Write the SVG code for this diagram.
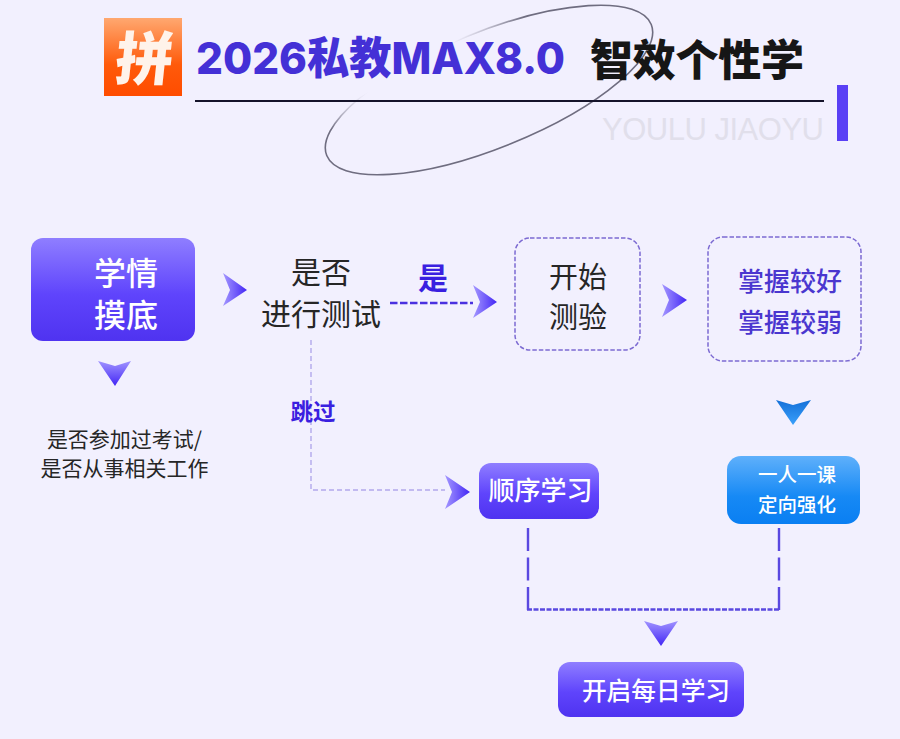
<svg xmlns="http://www.w3.org/2000/svg" width="900" height="739" viewBox="0 0 900 739">
<style>
text{font-family:"Noto Sans CJK SC","Liberation Sans",sans-serif;text-anchor:middle;dominant-baseline:central}
.w{fill:#fff;font-weight:500}
.k{fill:#262626}
.b{fill:#4a36cf;font-weight:500}
.v{fill:url(#gv)}
.dash{fill:none;stroke:#7c6ad2;stroke-width:1.5;stroke-dasharray:4.500 2}
.arr-r{fill:url(#ga)}
.arr-d{fill:url(#gd)}
</style>
<defs>
<linearGradient id="gv" x1="0" y1="0" x2="0" y2="1"><stop offset="0" stop-color="#8f7eff"/><stop offset=".55" stop-color="#5f44fc"/><stop offset="1" stop-color="#4f33f0"/></linearGradient>
<linearGradient id="gb" x1="0" y1="0" x2="0" y2="1"><stop offset="0" stop-color="#5fb0fb"/><stop offset=".6" stop-color="#1689f5"/><stop offset="1" stop-color="#0a7ff2"/></linearGradient>
<linearGradient id="ga" x1="0" y1="0" x2="1" y2="0"><stop offset="0" stop-color="#a598ff"/><stop offset="1" stop-color="#4326f5"/></linearGradient>
<linearGradient id="gd" x1="0" y1="0" x2="0" y2="1"><stop offset="0" stop-color="#a093ff"/><stop offset="1" stop-color="#4326f5"/></linearGradient>
<linearGradient id="gbd" x1="0" y1="0" x2="0" y2="1"><stop offset="0" stop-color="#1470d8"/><stop offset="1" stop-color="#3aa0fb"/></linearGradient>
<linearGradient id="gl" x1="0" y1="0" x2="0" y2="1"><stop offset="0" stop-color="#ffa870"/><stop offset=".6" stop-color="#ff5a0a"/><stop offset="1" stop-color="#ff4c00"/></linearGradient>
<linearGradient id="ge" gradientUnits="userSpaceOnUse" x1="409" y1="68" x2="416" y2="80" gradientTransform="rotate(22 489 90)"><stop offset="0" stop-color="#6f6d80" stop-opacity="0"/><stop offset="1" stop-color="#6f6d80"/></linearGradient>
</defs>
<rect width="900" height="739" fill="#f2f0fe"/>
<g id="header">
<ellipse cx="489" cy="90" rx="175" ry="58" transform="rotate(-22 489 90)" fill="none" stroke="url(#ge)" stroke-width="1.6"/>
<rect x="104" y="18" width="78" height="78" fill="url(#gl)"/>
<text x="143" y="55" font-size="58" font-weight="900" fill="#fff3ea" transform="translate(8 0) skewX(-6) translate(0 0)" style="font-family:'Noto Sans CJK SC',sans-serif">拼</text>
<text x="196" y="58" font-size="44" font-weight="800" fill="#4430d6" style="text-anchor:start;font-family:Inter,'Noto Sans CJK SC',sans-serif" textLength="369" lengthAdjust="spacingAndGlyphs">2026私教MAX8.0</text>
<text x="590" y="57" font-size="43" font-weight="900" fill="#161616" style="text-anchor:start" textLength="214">智效个性学</text>
<line x1="195" y1="101" x2="824" y2="101" stroke="#15132a" stroke-width="2"/>
<rect x="837" y="85" width="11" height="56" fill="#5a40f5"/>
<text x="713" y="129" font-size="31" fill="#e1dfeb" style="font-family:'Liberation Sans',sans-serif" textLength="222">YOULU JIAOYU</text>
</g>
<g id="connectors">
<line x1="390" y1="303" x2="473" y2="303" stroke="#4a30e0" stroke-width="2.400" stroke-dasharray="7.500 2.500"/>
<polyline points="311,340 311,490 445,490" fill="none" stroke="#b3a8ec" stroke-width="1.4" stroke-dasharray="5 3"/>
<path d="M528 528V610M779 528V610" fill="none" stroke="#5a48e0" stroke-width="2.4" stroke-dasharray="23 6.5"/>
<line x1="527" y1="609.500" x2="780" y2="609.500" stroke="#5a48e0" stroke-width="2.4" stroke-dasharray="5 1.500"/>
<polygon class="arr-r" points="223,273 247,290 223,306 230,290"/>
<polygon class="arr-r" points="473,285 497,302 473,318 480,302"/>
<polygon class="arr-r" points="662,284 687,300 662,317 669,300"/>
<polygon class="arr-r" points="445,475 470,492 445,509 452,492"/>
<polygon class="arr-d" points="98,361 115,366 131,361 115,386"/>
<polygon fill="url(#gbd)" points="776,400 793,405 811,400 793,425"/>
<polygon class="arr-d" points="644,621 661,626 678,621 661,646"/>
</g>
<g id="node-xueqing">
<rect class="v" x="31" y="238" width="164" height="103" rx="12"/>
<text class="w" x="126" y="271" font-size="32">学情</text>
<text class="w" x="126" y="313" font-size="32">摸底</text>
</g>
<g id="node-note">
<text class="k" x="124.500" y="438" font-size="21">是否参加过考试/</text>
<text class="k" x="124.500" y="467" font-size="21">是否从事相关工作</text>
</g>
<g id="node-test">
<text class="k" x="321" y="270" font-size="30">是否</text>
<text class="k" x="321" y="312" font-size="30">进行测试</text>
</g>
<g id="label-yes"><text x="433" y="276" font-size="30" font-weight="700" fill="#3a20e0">是</text></g>
<g id="label-skip"><text x="313" y="410" font-size="22.500" font-weight="700" fill="#3a20e0">跳过</text></g>
<g id="node-start">
<rect class="dash" x="515" y="238" width="125" height="112" rx="15"/>
<text class="k" x="578" y="275" font-size="29">开始</text>
<text class="k" x="578" y="315" font-size="29">测验</text>
</g>
<g id="node-level">
<rect class="dash" x="708" y="237" width="153" height="124" rx="15"/>
<text class="b" x="790" y="279" font-size="26">掌握较好</text>
<text class="b" x="790" y="320" font-size="26">掌握较弱</text>
</g>
<g id="node-order">
<rect class="v" x="479" y="463" width="120" height="56" rx="12"/>
<text class="w" x="540.500" y="488" font-size="26">顺序学习</text>
</g>
<g id="node-one">
<rect x="727" y="456" width="133" height="68" rx="14" fill="url(#gb)"/>
<text class="w" x="797" y="473" font-size="19.500">一人一课</text>
<text class="w" x="797" y="503" font-size="19.500">定向强化</text>
</g>
<g id="node-daily">
<rect class="v" x="558" y="662" width="186" height="55" rx="12"/>
<text class="w" x="656" y="689" font-size="24.700">开启每日学习</text>
</g>
</svg>
